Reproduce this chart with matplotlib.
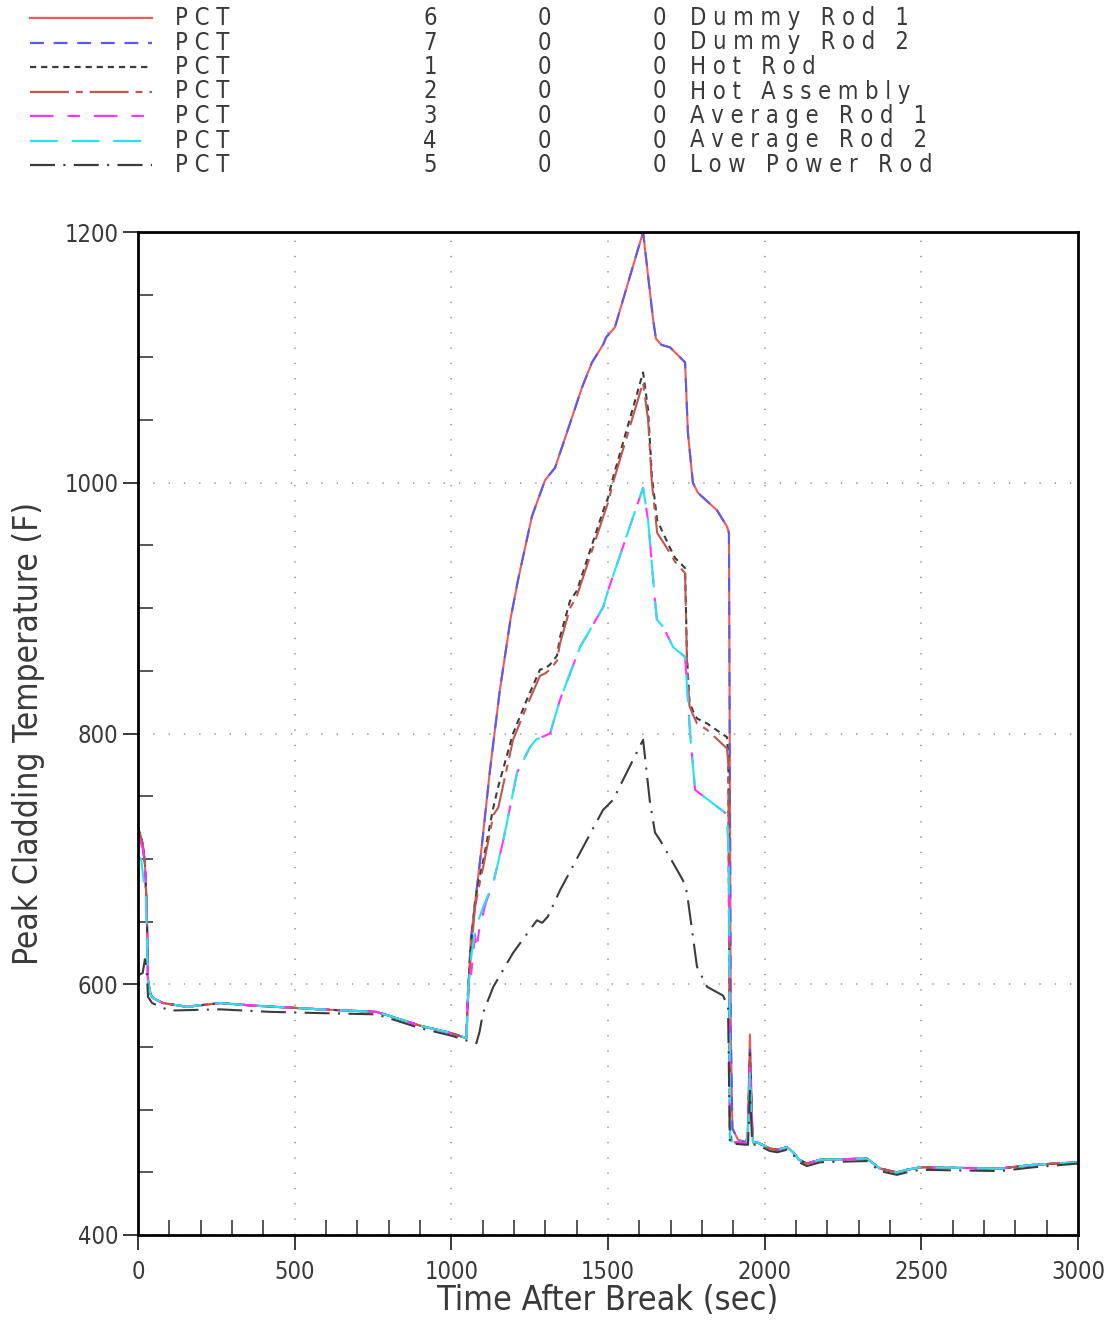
import matplotlib
matplotlib.use("Agg")
import matplotlib.pyplot as plt
from matplotlib.ticker import MultipleLocator

plt.rcParams["font.family"] = ["DejaVu Sans"]
plt.rcParams["font.stretch"] = "condensed"
plt.rcParams["lines.scale_dashes"] = False

# ---- data (time in sec, temperature in F) ----
t_tail = [1963, 1975, 2017, 2040, 2071, 2091, 2110, 2135, 2177, 2326, 2368,
          2422, 2454, 2496, 2751, 2857, 3000]
T_tail = [474, 474, 469, 468, 470, 466, 460, 457, 460, 461, 453,
          450, 452, 454, 453, 456, 458]
T_tail_low = [472, 472, 467, 466, 468, 464, 458, 455, 458, 459, 451,
              448, 450, 452, 451, 454, 457]

t_dummy1 = [0, 15, 22, 28, 32, 40, 48, 80, 156, 262, 367, 581, 760, 800, 900,
            1000, 1048, 1052, 1056, 1062, 1076, 1098, 1123, 1155, 1190, 1215,
            1257, 1299, 1331, 1385, 1417, 1449, 1484, 1494, 1522, 1612, 1644,
            1653, 1670, 1698, 1730, 1746, 1755, 1771, 1787, 1848, 1880, 1886,
            1892, 1897, 1915, 1940, 1946, 1953, 1960] + t_tail
T_dummy1 = [725, 712, 697, 660, 603, 592, 589, 585, 582, 585, 583, 580, 578,
            575, 567, 561, 557, 580, 605, 635, 665, 712, 770, 835, 893, 925,
            973, 1002, 1012, 1052, 1076, 1096, 1110, 1116, 1124, 1200, 1130,
            1115, 1110, 1108, 1100, 1096, 1040, 1000, 992, 978, 965, 960,
            560, 485, 476, 474, 480, 560, 490] + T_tail

t_dummy2 = t_dummy1
T_dummy2 = [725, 712, 697, 660, 603, 592, 589, 585, 582, 585, 583, 580, 578,
            575, 567, 561, 557, 580, 605, 635, 665, 712, 770, 835, 893, 925,
            973, 1002, 1012, 1052, 1076, 1096, 1110, 1116, 1124, 1200, 1130,
            1115, 1110, 1108, 1100, 1096, 1040, 1000, 992, 978, 965, 960,
            560, 485, 476, 474, 478, 548, 488] + T_tail

t_hot = [0, 15, 22, 28, 32, 40, 48, 80, 156, 262, 367, 581, 760, 800, 900,
         1000, 1048, 1052, 1058, 1066, 1076, 1090, 1102, 1134, 1150, 1197,
         1241, 1283, 1300, 1315, 1337, 1347, 1379, 1401, 1485, 1500, 1516,
         1612, 1628, 1640, 1657, 1698, 1714, 1746, 1752, 1760, 1771, 1784,
         1816, 1880, 1884, 1889, 1900, 1940, 1946, 1953, 1960] + t_tail
T_hot = [725, 712, 697, 660, 603, 592, 589, 585, 582, 585, 583, 580, 578, 575,
         567, 561, 557, 590, 615, 640, 667, 685, 699, 741, 758, 800,
         827, 851, 852, 855, 862, 877, 906, 914, 978, 988, 1004,
         1088, 1058, 1005, 970, 948, 940, 932, 862, 825, 818, 812,
         808, 797, 780, 480, 474, 473, 478, 545, 485] + T_tail

t_assembly = t_hot
T_assembly = [725, 712, 697, 660, 603, 592, 589, 585, 582, 585, 583, 580, 578,
              575, 567, 561, 557, 585, 610, 635, 662, 680, 694, 735, 741, 795,
              822, 846, 848, 851, 858, 872, 900, 910, 973, 984, 1000,
              1080, 1050, 1000, 960, 944, 937, 928, 858, 822, 815, 808,
              803, 788, 775, 478, 474, 473, 478, 542, 484] + T_tail

t_avg1 = [0, 15, 22, 28, 32, 40, 48, 80, 156, 262, 367, 581, 760, 800, 900,
          1000, 1048, 1052, 1060, 1070, 1075, 1080, 1090, 1110, 1134, 1166,
          1210, 1251, 1270, 1315, 1347, 1411, 1485, 1500, 1612, 1628, 1650,
          1656, 1676, 1708, 1746, 1762, 1778, 1873, 1880, 1886, 1890, 1940,
          1946, 1953, 1960] + t_tail
T_avg1 = [720, 708, 695, 660, 603, 592, 589, 585, 582, 585, 583, 580, 578, 575,
          567, 561, 557, 588, 600, 625, 640, 628, 645, 665, 681, 715,
          769, 789, 795, 800, 827, 869, 901, 914, 996, 970, 906,
          891, 885, 869, 861, 800, 755, 737, 735, 700, 475, 473,
          478, 535, 483] + T_tail

t_avg2 = [0, 10, 18, 25, 30, 34, 40, 48, 80, 156, 262, 367, 581, 760, 800, 900,
          1000, 1048, 1055, 1065, 1078, 1102, 1134, 1166, 1210, 1251, 1270,
          1315, 1347, 1411, 1485, 1500, 1612, 1628, 1650, 1656, 1676, 1708,
          1746, 1762, 1778, 1873, 1880, 1886, 1890, 1940, 1946, 1953,
          1960] + t_tail
T_avg2 = [702, 700, 683, 670, 620, 600, 592, 589, 585, 582, 585, 583, 580, 578,
          575, 567, 561, 557, 600, 625, 645, 662, 681, 715, 769, 789, 795,
          800, 827, 869, 901, 914, 996, 970, 906, 891, 885, 869,
          861, 800, 755, 737, 735, 700, 475, 473, 478, 529,
          482] + T_tail

t_low = [0, 15, 22, 28, 32, 45, 100, 260, 420, 580, 760, 800, 900, 1000, 1050,
         1080, 1090, 1101, 1134, 1197, 1273, 1290, 1308, 1347, 1411, 1484,
         1516, 1602, 1612, 1634, 1650, 1666, 1698, 1739, 1752, 1784, 1816,
         1867, 1883, 1889, 1940, 1947, 1953, 1960] + t_tail
T_low = [607, 609, 620, 610, 590, 585, 579, 580, 578, 577, 576, 573, 565, 559,
         555, 553, 562, 577, 598, 625, 651, 649, 654, 675, 705, 739,
         747, 790, 795, 745, 721, 715, 701, 683, 673, 614, 598,
         591, 582, 473, 472, 472, 515, 475] + T_tail_low

series = [
    ("6", "D u m m y   R o d   1", t_dummy1, T_dummy1, "#f25a5a", "-"),
    ("7", "D u m m y   R o d   2", t_dummy2, T_dummy2, "#5a5af2", (0, (10, 7))),
    ("1", "H o t   R o d", t_hot, T_hot, "#3c3c3c", (0, (4.5, 3.5))),
    ("2", "H o t   A s s e m b l y", t_assembly, T_assembly, "#c0564f",
     (0, (28, 5, 5, 5))),
    ("3", "A v e r a g e   R o d   1", t_avg1, T_avg1, "#ff33ff",
     (0, (17, 10, 9, 10))),
    ("4", "A v e r a g e   R o d   2", t_avg2, T_avg2, "#22e5f0", (0, (20, 10))),
    ("5", "L o w   P o w e r   R o d", t_low, T_low, "#3c3c3c",
     (0, (18, 6, 1.5, 6))),
]

fig = plt.figure(figsize=(11.1, 13.25), dpi=100)

# legend block drawn in pixel coordinates
lax = fig.add_axes([0, 0, 1, 1])
lax.set_xlim(0, 1110)
lax.set_ylim(1325, 0)
lax.axis("off")
txt = dict(fontsize=17, color="#3a3a3a", va="center")
for i, (num, name, t, T, color, ls) in enumerate(series):
    y = 18 + i * 24.5
    lax.plot([30, 152], [y, y], color=color, linestyle=ls, linewidth=1.6)
    lax.text(175, y, "P C T", ha="left", **txt)
    lax.text(430, y, num, ha="center", **txt)
    lax.text(544, y, "0", ha="center", **txt)
    lax.text(659, y, "0", ha="center", **txt)
    lax.text(690, y, name, ha="left", **txt)

ax = fig.add_axes([138 / 1110, 90 / 1325, 940 / 1110, 1003 / 1325])
for num, name, t, T, color, ls in series:
    ax.plot(t, T, color=color, linestyle=ls, linewidth=1.5)

ax.set_xlim(0, 3000)
ax.set_ylim(400, 1200)
ax.xaxis.set_major_locator(MultipleLocator(500))
ax.xaxis.set_minor_locator(MultipleLocator(100))
ax.yaxis.set_major_locator(MultipleLocator(200))
ax.yaxis.set_minor_locator(MultipleLocator(50))
ax.tick_params(which="major", direction="out", length=11, width=1.4,
               labelsize=17, colors="#3a3a3a", pad=3)
ax.tick_params(which="minor", direction="in", length=11, width=1.2,
               colors="#3a3a3a")
ax.tick_params(axis="x", which="major", pad=7)
ax.grid(True, which="major", color="#999999", linestyle=(0, (1, 10)),
        linewidth=1.2)
for s in ax.spines.values():
    s.set_linewidth(2)
ax.set_xlabel("Time After Break (sec)", fontsize=24.5, color="#3a3a3a",
              labelpad=0)
ax.set_ylabel("Peak Cladding Temperature (F)", fontsize=24, color="#3a3a3a",
              labelpad=14)

fig.savefig("out.png", dpi=100)
